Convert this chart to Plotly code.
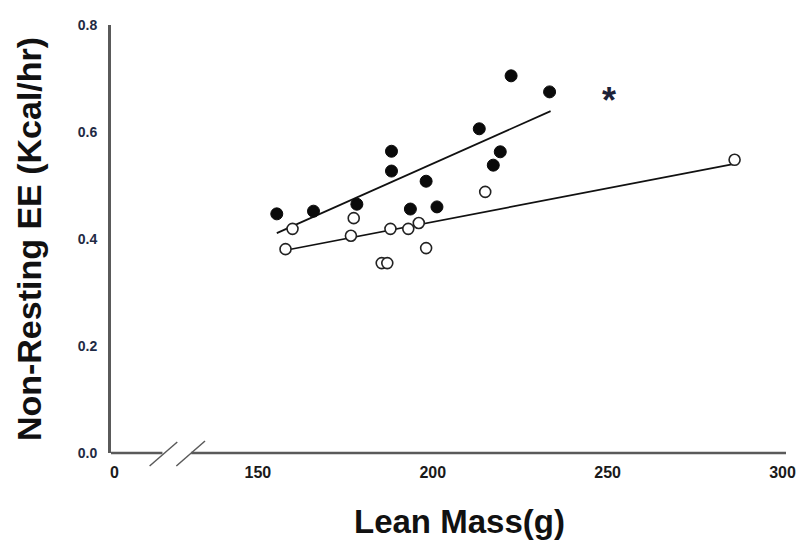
import plotly.graph_objects as go

# ---- data ----
filled_mass = [155.4, 165.9, 178.3, 188.2, 188.2, 193.6, 198.1, 201.2, 213.3, 217.3, 219.3, 222.4, 233.4]
filled_ee = [0.447, 0.452, 0.465, 0.564, 0.527, 0.456, 0.508, 0.460, 0.606, 0.538, 0.563, 0.705, 0.675]

open_mass = [157.9, 159.9, 176.6, 177.4, 185.4, 187.0, 187.9, 193.0, 196.0, 198.1, 215.0, 286.3]
open_ee = [0.381, 0.419, 0.406, 0.439, 0.355, 0.355, 0.419, 0.419, 0.430, 0.383, 0.488, 0.548]

fit_filled_mass = [155.4, 233.7]
fit_filled_ee = [0.411, 0.639]
fit_open_mass = [157.9, 285.9]
fit_open_ee = [0.379, 0.540]

star_mass = 250.4
star_ee = 0.675

x_tickvals = [109, 150, 200, 250, 300]
x_ticktext = ["0", "150", "200", "250", "300"]
y_tickvals = [0.0, 0.2, 0.4, 0.6, 0.8]
y_ticktext = ["0.0", "0.2", "0.4", "0.6", "0.8"]

FONT = "Liberation Sans, Arial, sans-serif"
AXIS_GREY = "#5a5a5a"

fig = go.Figure()

fig.add_trace(go.Scatter(x=fit_filled_mass, y=fit_filled_ee, mode="lines",
                         line=dict(color="#111111", width=1.7), showlegend=False, hoverinfo="skip"))
fig.add_trace(go.Scatter(x=fit_open_mass, y=fit_open_ee, mode="lines",
                         line=dict(color="#111111", width=1.7), showlegend=False, hoverinfo="skip"))

fig.add_trace(go.Scatter(x=filled_mass, y=filled_ee, mode="markers",
                         marker=dict(size=12, color="#0a0a0a", line=dict(color="#0a0a0a", width=1)),
                         showlegend=False))
fig.add_trace(go.Scatter(x=open_mass, y=open_ee, mode="markers",
                         marker=dict(size=11, color="white", line=dict(color="#222222", width=1.6)),
                         showlegend=False))

# significance marker
fig.add_annotation(x=star_mass, y=star_ee, text="<b>*</b>", showarrow=False,
                   yshift=-9, font=dict(family=FONT, size=36, color="#1c2238"))

# x-axis title
fig.add_annotation(xref="paper", yref="paper", x=0.516, y=-0.161, xanchor="center", yanchor="middle",
                   text="<b>Lean Mass(g)</b>", showarrow=False,
                   font=dict(family=FONT, size=33, color="#111111"))

# broken x-axis line and break marks (decoration)
shapes = [
    dict(type="line", xref="paper", yref="paper", x0=0, x1=0.0762, y0=0, y1=0,
         line=dict(color=AXIS_GREY, width=2.5)),
    dict(type="line", xref="paper", yref="paper", x0=0.1188, x1=1.0, y0=0, y1=0,
         line=dict(color=AXIS_GREY, width=2.5)),
    dict(type="line", xref="paper", yref="paper", x0=0.0572, x1=0.0982, y0=-0.0304, y1=0.0257,
         line=dict(color=AXIS_GREY, width=1.5)),
    dict(type="line", xref="paper", yref="paper", x0=0.0968, x1=0.1393, y0=-0.0304, y1=0.0280,
         line=dict(color=AXIS_GREY, width=1.5)),
]

fig.update_layout(
    width=808, height=541,
    margin=dict(l=111, r=15, t=25, b=88),
    paper_bgcolor="white", plot_bgcolor="white",
    shapes=shapes,
    xaxis=dict(
        range=[108, 301], showline=False, showgrid=False, zeroline=False,
        tickmode="array", tickvals=x_tickvals, ticktext=x_ticktext, ticks="",
        ticklabelstandoff=8,
        tickfont=dict(family=FONT, size=16, color="#1a1a1a", weight="bold"),
    ),
    yaxis=dict(
        range=[0, 0.8], showline=True, linecolor=AXIS_GREY, linewidth=3,
        showgrid=False, zeroline=False,
        tickmode="array", tickvals=y_tickvals, ticktext=y_ticktext, ticks="",
        ticklabelstandoff=8,
        tickfont=dict(family=FONT, size=14, color="#1f2a44", weight="bold"),
        title=dict(text="Non-Resting EE (Kcal/hr)", standoff=26,
                   font=dict(family=FONT, size=34, color="#111111", weight="bold")),
    ),
)

fig.write_html("out.html")
